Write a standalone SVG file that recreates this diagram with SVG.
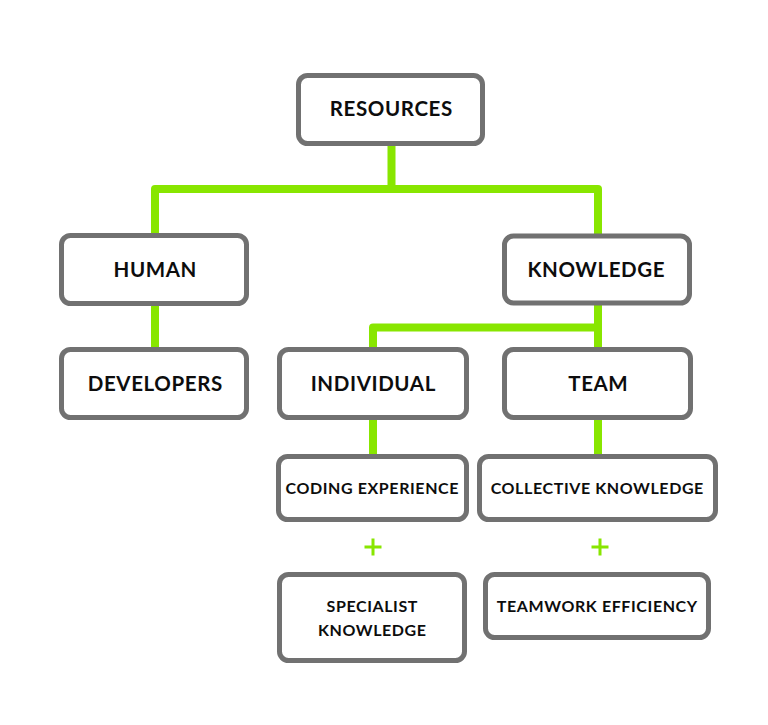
<svg xmlns="http://www.w3.org/2000/svg" width="768" height="725" viewBox="0 0 768 725">
<style>
.box{fill:#fff;stroke:#717171;stroke-width:5}
.lbl{font-family:Lato,"Open Sans",sans-serif;font-weight:700;fill:#0d0d0d;text-anchor:middle}
.big{font-size:20.5px;letter-spacing:0.6px}
.small{font-size:16px;letter-spacing:0.6px}
.conn{fill:none;stroke:#88e600;stroke-width:8;stroke-linejoin:round;stroke-linecap:butt}
.plus{stroke:#88e600;stroke-width:3}
</style>
<rect width="768" height="725" fill="#fff"/>
<g id="connectors">
<path class="conn" d="M391.5 146 V189 M155 235 V189 H598 V235"/>
<path class="conn" d="M155 306 V347"/>
<path class="conn" d="M598 305 V347 M598 327.5 H373 V347"/>
<path class="conn" d="M373 420 V454"/>
<path class="conn" d="M598 420 V454"/>
</g>
<g id="resources"><rect class="box" x="298.5" y="75.5" width="184" height="68" rx="9"/><text class="lbl big" x="391.3" y="116">RESOURCES</text></g>
<g id="human"><rect class="box" x="61.5" y="235.5" width="185" height="68" rx="9"/><text class="lbl big" x="155.3" y="277">HUMAN</text></g>
<g id="knowledge"><rect class="box" x="504.5" y="236" width="185" height="67" rx="9"/><text class="lbl big" x="596.3" y="277">KNOWLEDGE</text></g>
<g id="developers"><rect class="box" x="61.5" y="349.5" width="185" height="68" rx="9"/><text class="lbl big" x="155.3" y="391">DEVELOPERS</text></g>
<g id="individual"><rect class="box" x="279.5" y="349.5" width="187" height="68" rx="9"/><text class="lbl big" x="373.3" y="391">INDIVIDUAL</text></g>
<g id="team"><rect class="box" x="504.5" y="349.5" width="186" height="68" rx="9"/><text class="lbl big" x="598.3" y="391">TEAM</text></g>
<g id="coding"><rect class="box" x="278.5" y="456.5" width="188" height="63" rx="9"/><text class="lbl small" x="372.3" y="494">CODING EXPERIENCE</text></g>
<g id="collective"><rect class="box" x="479.5" y="456.5" width="236" height="63" rx="9"/><text class="lbl small" x="597.3" y="494">COLLECTIVE KNOWLEDGE</text></g>
<g id="plus1"><path class="plus" d="M364.5 547 H381.5 M373 538.5 V555.5"/></g>
<g id="plus2"><path class="plus" d="M591.5 547 H608.5 M600 538.5 V555.5"/></g>
<g id="specialist"><rect class="box" x="279.5" y="574.5" width="185" height="86" rx="9"/><text class="lbl small" x="372.3" y="612">SPECIALIST</text><text class="lbl small" x="372.3" y="636">KNOWLEDGE</text></g>
<g id="teamwork"><rect class="box" x="485.5" y="574.5" width="223" height="63" rx="9"/><text class="lbl small" x="597.3" y="612">TEAMWORK EFFICIENCY</text></g>
</svg>
